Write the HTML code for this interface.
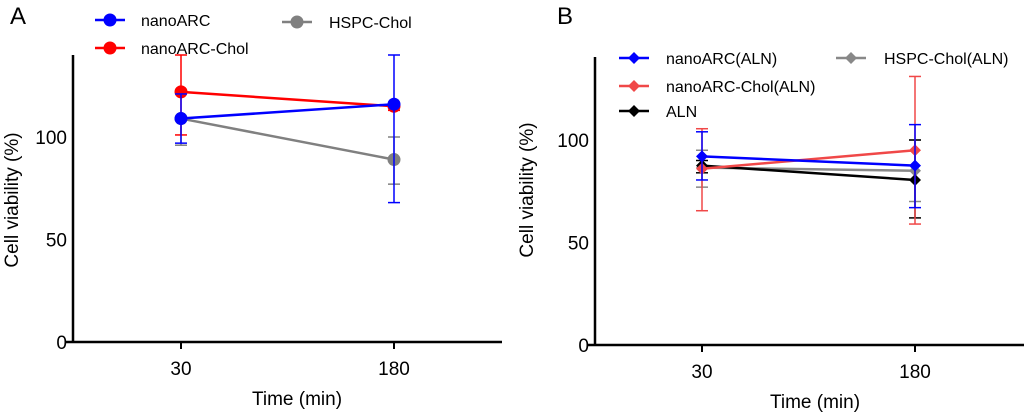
<!DOCTYPE html>
<html><head><meta charset="utf-8"><style>
body{margin:0;background:#fff;width:1024px;height:414px;overflow:hidden}
svg{font-family:"Liberation Sans",Arial,sans-serif}
</style></head><body>
<svg id="s" width="1024" height="414"></svg>
<script>
const categories=[30,180];
const yTicks=[0,50,100];
// Panel A
const aNames=["nanoARC","nanoARC-Chol","HSPC-Chol"];
const aNano=[109,116],aNanoHi=[121,140],aNanoLo=[97,68];
const aChol=[122,115],aCholHi=[140,117],aCholLo=[101,113];
const aHspc=[109,89],aHspcHi=[110,100],aHspcLo=[96,77];
// Panel B
const bNames=["nanoARC(ALN)","nanoARC-Chol(ALN)","ALN","HSPC-Chol(ALN)"];
const bNano=[92,87.5],bNanoHi=[104,107.5],bNanoLo=[80.5,67];
const bChol=[86,95],bCholHi=[105.5,131],bCholLo=[65.5,59];
const bAln=[87.5,80.5],bAlnHi=[90,100],bAlnLo=[84,62];
const bHspc=[86.5,85],bHspcHi=[95,100],bHspcLo=[77,70];

const NS="http://www.w3.org/2000/svg",svg=document.getElementById('s');
function el(t,a,p){const e=document.createElementNS(NS,t);for(const k in a)e.setAttribute(k,a[k]);(p||svg).appendChild(e);return e;}
function txt(s,a,p){const e=el('text',a,p);e.textContent=s;return e;}

function panel(cfg){
  const g=el('g',{});
  
  
  const xS=v=>cfg.x0+(categories.indexOf(v))*(cfg.x1-cfg.x0);
  const yS=v=>cfg.y0-v*cfg.k;
  const ax=el('line',{x1:cfg.ax,y1:cfg.top,x2:cfg.ax,y2:cfg.y0+1,stroke:'#000','stroke-width':2.5},g);
  
  const xa=el('line',{x1:cfg.ax-7,y1:cfg.y0,x2:cfg.xend,y2:cfg.y0,stroke:'#000','stroke-width':2.5},g);
  
  yTicks.forEach(t=>{
    const l=txt(t,{x:cfg.ax-6,y:yS(t)+7,'font-size':19,'text-anchor':'end'},g);
    
  });
  categories.forEach(c=>{
    el('line',{x1:xS(c),y1:cfg.y0,x2:xS(c),y2:cfg.y0+7,stroke:'#000','stroke-width':2},g);
    const l=txt(c,{x:xS(c),y:cfg.y0+33,'font-size':19,'text-anchor':'middle'},g);
    
  });
  const xt=txt('Time (min)',{x:cfg.xtx,y:cfg.xty,'font-size':19,'text-anchor':'middle'},g);
  
  const yt=txt('Cell viability (%)',{x:0,y:0,'font-size':19,'text-anchor':'middle',transform:`translate(${cfg.ytx},${cfg.yty}) rotate(-90)`},g);
  
  const pl=txt(cfg.label,{x:cfg.lx,y:24,'font-size':24},g);
  
  cfg.series.forEach(s=>{
    const sg=el('g',{},g);
    
    
    categories.forEach((c,i)=>{
      const x=xS(c);
      el('line',{x1:x,y1:yS(s.hi[i]),x2:x,y2:yS(s.lo[i]),stroke:s.c,'stroke-width':1.5},sg);
      el('line',{x1:x-6,y1:yS(s.hi[i]),x2:x+6,y2:yS(s.hi[i]),stroke:s.c,'stroke-width':1.5},sg);
      el('line',{x1:x-6,y1:yS(s.lo[i]),x2:x+6,y2:yS(s.lo[i]),stroke:s.c,'stroke-width':1.5},sg);
    });
    el('polyline',{points:categories.map((c,i)=>xS(c)+','+yS(s.v[i])).join(' '),fill:'none',stroke:s.c,'stroke-width':2.5},sg);
    categories.forEach((c,i)=>{
      const x=xS(c),y=yS(s.v[i]);
      let m;
      if(cfg.dia) m=el('polygon',{points:`${x},${y-6} ${x+6},${y} ${x},${y+6} ${x-6},${y}`,fill:s.c},sg);
      else m=el('circle',{cx:x,cy:y,r:6.5,fill:s.c},sg);
      
    });
    const lg=el('g',{},g);
    
    el('line',{x1:s.lx,y1:s.ly,x2:s.lx+30,y2:s.ly,stroke:s.c,'stroke-width':2.5},lg);
    const mx=s.lx+15;
    if(cfg.dia) el('polygon',{points:`${mx},${s.ly-6} ${mx+6},${s.ly} ${mx},${s.ly+6} ${mx-6},${s.ly}`,fill:s.c},lg);
    else el('circle',{cx:mx,cy:s.ly,r:6.5,fill:s.c},lg);
    txt(s.n,{x:s.tx,y:s.ly+6,'font-size':16},lg);
  });
}
panel({name:'panel-a',label:'A',lx:10,ax:73,top:55,y0:342,k:2.05,x0:181,x1:394,xend:502,xtx:297,xty:405,ytx:18,yty:200,dia:false,
 series:[
  {n:aNames[2],c:'#808080',v:aHspc,hi:aHspcHi,lo:aHspcLo,lx:282,ly:22,tx:329},
  {n:aNames[1],c:'#ff0000',v:aChol,hi:aCholHi,lo:aCholLo,lx:95,ly:48,tx:141},
  {n:aNames[0],c:'#0000ff',v:aNano,hi:aNanoHi,lo:aNanoLo,lx:95,ly:20,tx:141}
 ]});
panel({name:'panel-b',label:'B',lx:557,ax:595,top:57,y0:345,k:2.05,x0:702,x1:915,xend:1024,xtx:815,xty:408,ytx:533,yty:190,dia:true,
 series:[
  {n:bNames[3],c:'#888888',v:bHspc,hi:bHspcHi,lo:bHspcLo,lx:836,ly:58,tx:884},
  {n:bNames[2],c:'#000000',v:bAln,hi:bAlnHi,lo:bAlnLo,lx:619,ly:111,tx:666},
  {n:bNames[1],c:'#f04848',v:bChol,hi:bCholHi,lo:bCholLo,lx:619,ly:86,tx:666},
  {n:bNames[0],c:'#0000ff',v:bNano,hi:bNanoHi,lo:bNanoLo,lx:619,ly:58,tx:666}
 ]});
</script>
</body></html>
